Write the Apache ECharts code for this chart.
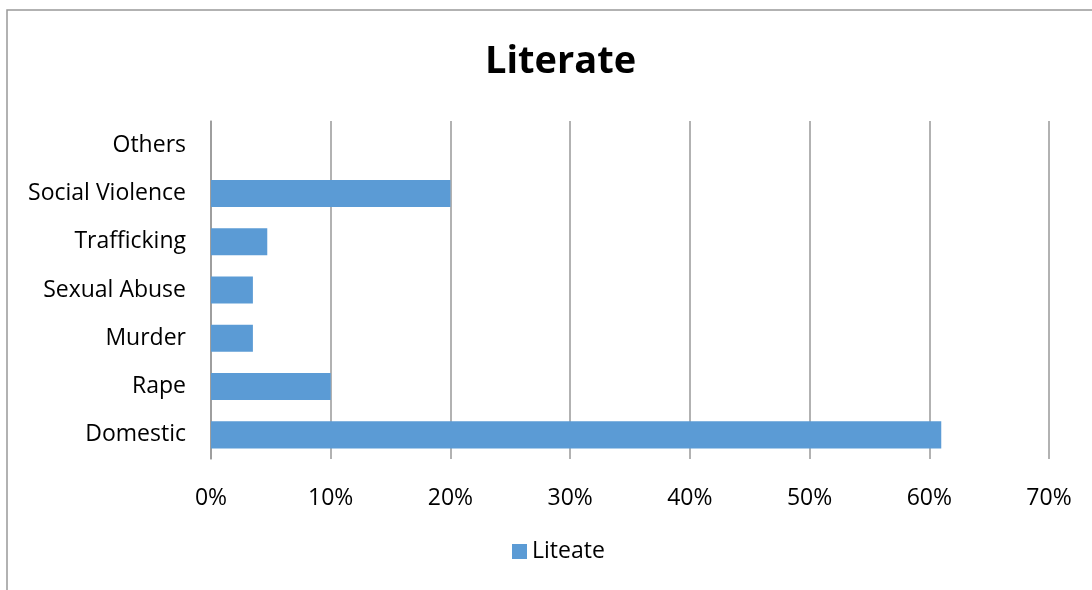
<!DOCTYPE html>
<html>
<head>
<meta charset="utf-8">
<script src="https://cdn.jsdelivr.net/npm/echarts@6/dist/echarts.min.js"></script>
<style>
  html, body { margin: 0; padding: 0; background: #fff; }
  #chart { width: 1092px; height: 590px; }
</style>
</head>
<body>
<div id="chart"></div>
<script>
// categories bottom to top
var categories = ['Domestic', 'Rape', 'Murder', 'Sexual Abuse', 'Trafficking', 'Social Violence', 'Others'];
var literate = [0.61, 0.10, 0.035, 0.035, 0.047, 0.20, 0];
var xTicks = [0, 0.1, 0.2, 0.3, 0.4, 0.5, 0.6, 0.7];

var chart = echarts.init(document.getElementById('chart'));

var option = {
    animation: false,
    textStyle: { fontFamily: 'Open Sans' },
    graphic: [
        {
            type: 'rect',
            shape: { x: 7, y: 10, width: 1200, height: 700 },
            style: { fill: 'none', stroke: '#999', lineWidth: 1.5 }
        }
    ],
    title: {
        text: 'Literate',
        left: 480,
        top: 38,
        textStyle: { fontSize: 38, fontWeight: 'bold', color: '#000', fontFamily: 'Open Sans' }
    },
    legend: {
        data: ['Liteate'],
        bottom: 22,
        left: 507,
        icon: 'rect',
        itemWidth: 15,
        itemHeight: 15,
        itemGap: 6,
        textStyle: { fontSize: 23, color: '#000' }
    },
    grid: {
        left: 211,
        right: 43,
        top: 121,
        bottom: 131
    },
    xAxis: {
        type: 'value',
        min: 0,
        max: 0.7,
        interval: 0.1,
        axisLine: { show: false },
        axisTick: { show: false },
        splitLine: { lineStyle: { color: '#999', width: 1.5 } },
        axisLabel: {
            fontSize: 23,
            color: '#000',
            margin: 28,
            formatter: function (v) { return Math.round(v * 100) + '%'; }
        }
    },
    yAxis: {
        type: 'category',
        data: categories,
        axisLine: { show: true, lineStyle: { color: '#999', width: 1.5 } },
        axisTick: { show: false },
        axisLabel: { fontSize: 23, color: '#000', margin: 25, padding: [4, 0, 0, 0] }
    },
    series: [
        {
            name: 'Liteate',
            type: 'bar',
            data: literate,
            barCategoryGap: '44%',
            itemStyle: { color: '#5B9BD5' }
        }
    ]
};

chart.setOption(option);
</script>
</body>
</html>
